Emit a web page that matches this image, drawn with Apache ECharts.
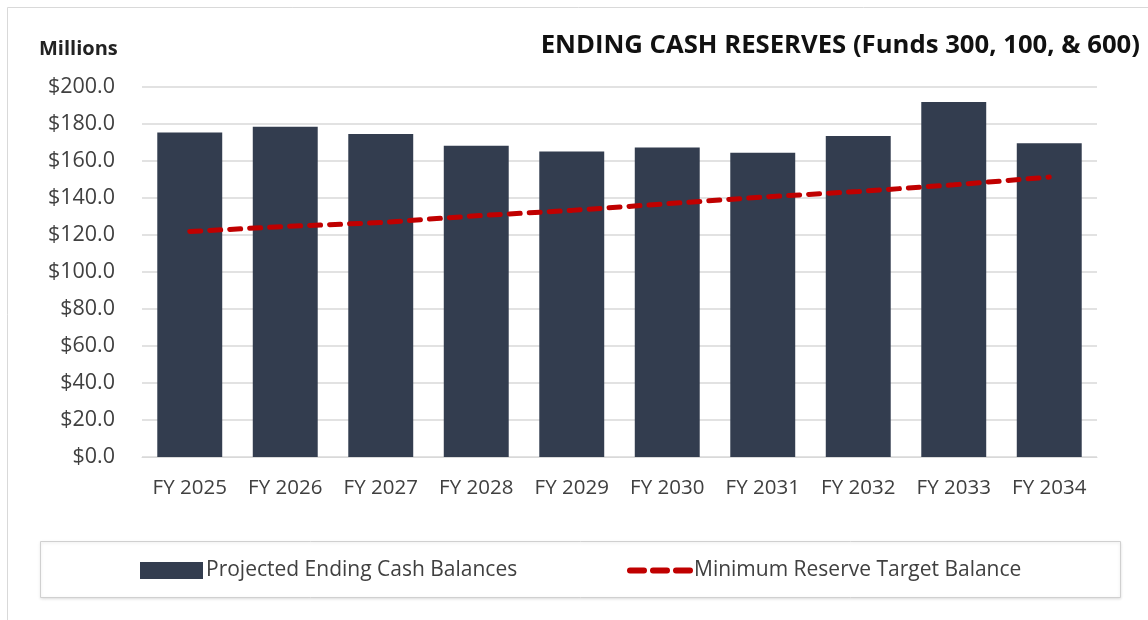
<!DOCTYPE html>
<html>
<head>
<meta charset="utf-8">
<script src="https://cdn.jsdelivr.net/npm/echarts@6/dist/echarts.min.js"></script>
<style>
  html, body { margin: 0; padding: 0; background: #ffffff; }
  #chart { width: 1148px; height: 620px; }
</style>
</head>
<body>
<div id="chart"></div>
<script>
// Fiscal years on the category axis
const fiscalYears = ['FY 2025', 'FY 2026', 'FY 2027', 'FY 2028', 'FY 2029',
                     'FY 2030', 'FY 2031', 'FY 2032', 'FY 2033', 'FY 2034'];
// Projected ending cash balances, $ millions
const endingCash = [175.3, 178.4, 174.4, 168.1, 165.0, 167.2, 164.3, 173.4, 191.7, 169.4];
// Minimum reserve target balance, $ millions
const reserveTarget = [121.8, 124.5, 126.6, 130.3, 133.2, 136.8, 140.4, 143.4, 147.0, 151.2];

const FONT = '"Open Sans", "Noto Sans", sans-serif';
const TEXT = '#404040';
const BAR_COLOR = '#333d4f';
const LINE_COLOR = '#c00000';

// three rounded dashes used as the legend key of the target line
const DASH_ICON = 'path://M3,0H17A3,3 0 0 1 17,6H3A3,3 0 0 1 3,0Z' +
                  'M26,0H40A3,3 0 0 1 40,6H26A3,3 0 0 1 26,0Z' +
                  'M49,0H63A3,3 0 0 1 63,6H49A3,3 0 0 1 49,0Z';

const chart = echarts.init(document.getElementById('chart'), null, { renderer: 'canvas' });

chart.setOption({
  animation: false,
  backgroundColor: '#ffffff',
  textStyle: { fontFamily: FONT },
  title: [
    {
      text: 'ENDING CASH RESERVES (Funds 300, 100, & 600)',
      right: 3, top: 28,
      textStyle: { fontFamily: FONT, fontSize: 25.7, fontWeight: 'bold', color: '#111111' }
    },
    {
      text: 'Millions',
      left: 34, top: 34,
      textStyle: { fontFamily: FONT, fontSize: 20, fontWeight: 'bold', color: '#222222' }
    }
  ],
  graphic: [
    {
      type: 'rect', silent: true, z: -10,
      shape: { x: 7.5, y: 7.5, width: 1160, height: 640 },
      style: { fill: 'none', stroke: '#d9d9d9', lineWidth: 1 }
    },
    {
      type: 'rect', silent: true, z: -10,
      shape: { x: 40.5, y: 541.5, width: 1080, height: 56 },
      style: { fill: '#ffffff', stroke: '#d0d0d0', lineWidth: 1,
               shadowColor: 'rgba(0,0,0,0.12)', shadowBlur: 3, shadowOffsetY: 1 }
    }
  ],
  legend: [
    {
      data: [{ name: 'Projected Ending Cash Balances', icon: 'rect' }],
      left: 135, top: 555,
      itemWidth: 63, itemHeight: 17, itemGap: 8,
      textStyle: { fontFamily: FONT, fontSize: 21, color: TEXT, padding: [0, 0, 0, -2] }
    },
    {
      data: [{ name: 'Minimum Reserve Target Balance', icon: DASH_ICON }],
      left: 622, top: 555,
      itemWidth: 66, itemHeight: 6, itemGap: 8,
      itemStyle: { color: LINE_COLOR },
      textStyle: { fontFamily: FONT, fontSize: 21, color: TEXT, padding: [0, 0, 0, -4] }
    }
  ],
  grid: { left: 142, right: 51, top: 86.7, bottom: 163, containLabel: false },
  xAxis: {
    type: 'category',
    data: fiscalYears,
    axisLine: { show: true, lineStyle: { color: '#d9d9d9', width: 1 } },
    axisTick: { show: false },
    axisLabel: { interval: 0, fontFamily: FONT, fontSize: 20.5, color: TEXT, margin: 21 }
  },
  yAxis: {
    type: 'value',
    min: 0, max: 200, interval: 20,
    axisLine: { show: false },
    axisTick: { show: false },
    splitLine: { lineStyle: { color: '#d9d9d9', width: 1.5 } },
    axisLabel: {
      fontFamily: FONT, fontSize: 21.5, color: TEXT, margin: 27,
      formatter: v => '$' + v.toFixed(1)
    }
  },
  series: [
    {
      name: 'Projected Ending Cash Balances',
      type: 'bar',
      data: endingCash,
      barCategoryGap: '32%',
      itemStyle: { color: BAR_COLOR }
    },
    {
      name: 'Minimum Reserve Target Balance',
      type: 'line',
      data: reserveTarget,
      symbol: 'none',
      smooth: false,
      z: 5,
      itemStyle: { color: LINE_COLOR },
      lineStyle: { color: LINE_COLOR, width: 5, type: [11, 9], cap: 'round' }
    }
  ]
});
</script>
</body>
</html>
